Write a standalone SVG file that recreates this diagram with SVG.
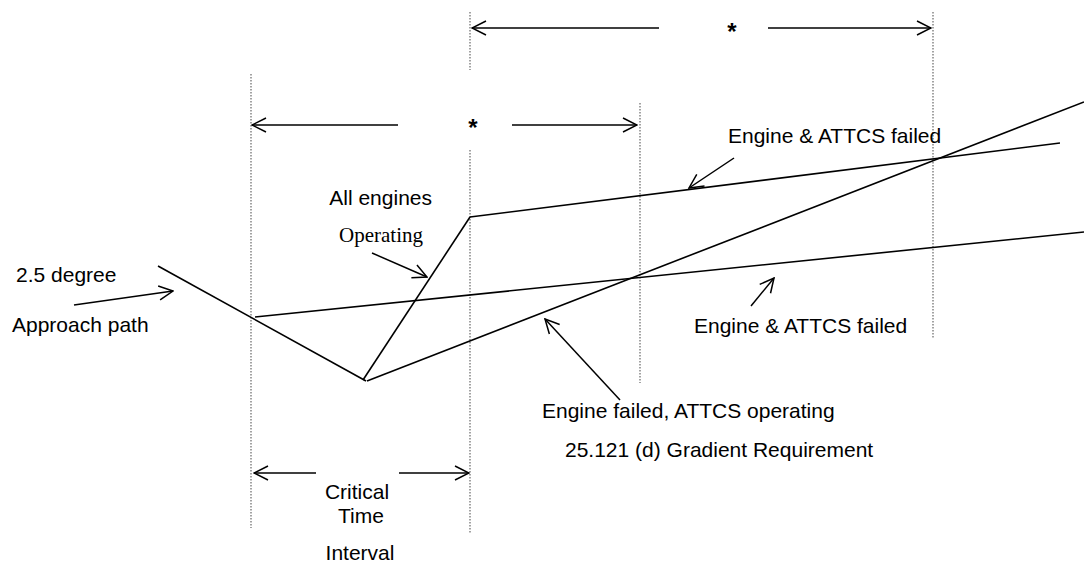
<svg xmlns="http://www.w3.org/2000/svg" width="1084" height="564" viewBox="0 0 1084 564">
<style>
.t{font-family:"Liberation Sans",Arial,sans-serif;font-size:21px;fill:#000}
.s{font-family:"Liberation Serif","Times New Roman",serif;font-size:21px;fill:#000}
.star{font-family:"Liberation Sans",Arial,sans-serif;font-size:24px;font-weight:bold;fill:#000;text-anchor:middle}
.ln{stroke:#000;stroke-width:1.6;fill:none}
.ar{stroke:#000;stroke-width:1.5;fill:none}
.dot{stroke:#666;stroke-width:1.2;stroke-dasharray:1.5 1.5;fill:none}
</style>
<defs>
<marker id="ah" viewBox="0 0 16 16" refX="15" refY="8" markerWidth="16" markerHeight="16" markerUnits="userSpaceOnUse" orient="auto-start-reverse">
<path d="M1,1 L15,8 L1,15" fill="none" stroke="#000" stroke-width="1.5"/>
</marker>
</defs>
<rect width="1084" height="564" fill="#fff"/>
<g id="guides">
<line class="dot" x1="251" y1="74" x2="251" y2="528"/>
<line class="dot" x1="470" y1="12" x2="470" y2="70"/>
<line class="dot" x1="470" y1="150" x2="470" y2="533"/>
<line class="dot" x1="640" y1="103" x2="640" y2="383"/>
<line class="dot" x1="933" y1="12" x2="933" y2="338"/>
</g>
<g id="connectors">
<line class="ln" x1="158" y1="266" x2="366" y2="381"/>
<line class="ln" x1="363" y1="380" x2="470" y2="217"/>
<line class="ln" x1="470" y1="217" x2="1060" y2="143"/>
<line class="ln" x1="367" y1="381" x2="1084" y2="102"/>
<line class="ln" x1="255" y1="317" x2="1084" y2="232"/>
<line class="ar" x1="659" y1="28" x2="472" y2="28" marker-end="url(#ah)"/>
<line class="ar" x1="768" y1="28" x2="931" y2="28" marker-end="url(#ah)"/>
<line class="ar" x1="398" y1="125" x2="252" y2="125" marker-end="url(#ah)"/>
<line class="ar" x1="512" y1="125" x2="637" y2="125" marker-end="url(#ah)"/>
<line class="ar" x1="316" y1="473" x2="254" y2="473" marker-end="url(#ah)"/>
<line class="ar" x1="399" y1="473" x2="469" y2="473" marker-end="url(#ah)"/>
<line class="ar" x1="74" y1="305" x2="173" y2="291" marker-end="url(#ah)"/>
<line class="ar" x1="372" y1="253" x2="427" y2="277" marker-end="url(#ah)"/>
<line class="ar" x1="734" y1="158" x2="689" y2="188" marker-end="url(#ah)"/>
<line class="ar" x1="751" y1="306" x2="774" y2="278" marker-end="url(#ah)"/>
<line class="ar" x1="620" y1="400" x2="545" y2="319" marker-end="url(#ah)"/>
</g>
<g id="star-top"><text class="star" x="732" y="40">*</text></g>
<g id="star-mid"><text class="star" x="473" y="136">*</text></g>
<g id="label-approach">
<text class="t" x="16" y="282">2.5 degree</text>
<text class="t" x="12" y="332">Approach path</text>
</g>
<g id="label-all-engines">
<text class="t" x="432" y="205" text-anchor="end">All engines</text>
<text class="s" x="423" y="242" text-anchor="end">Operating</text>
</g>
<g id="label-failed-upper"><text class="t" x="728" y="143">Engine &amp; ATTCS failed</text></g>
<g id="label-failed-lower"><text class="t" x="694" y="333">Engine &amp; ATTCS failed</text></g>
<g id="label-attcs-operating">
<text class="t" x="542" y="418">Engine failed, ATTCS operating</text>
<text class="t" x="565" y="457">25.121 (d) Gradient Requirement</text>
</g>
<g id="label-critical">
<text class="t" x="357" y="499" text-anchor="middle">Critical</text>
<text class="t" x="361" y="523" text-anchor="middle">Time</text>
<text class="t" x="360" y="560" text-anchor="middle">Interval</text>
</g>
</svg>
